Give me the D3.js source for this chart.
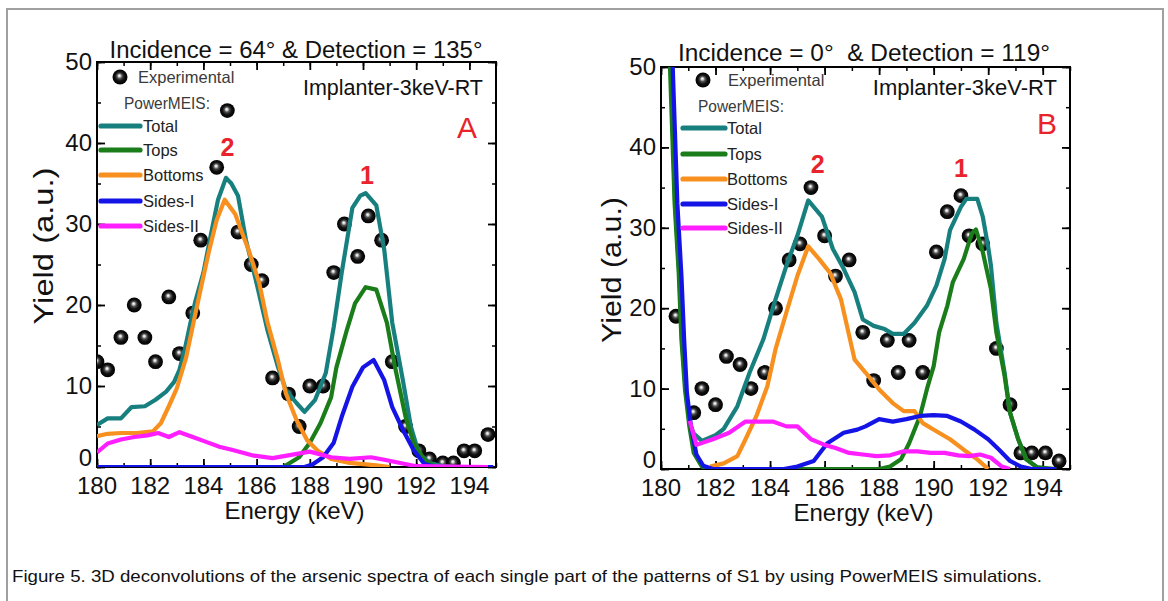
<!DOCTYPE html>
<html>
<head>
<meta charset="utf-8">
<script src="https://cdn.jsdelivr.net/npm/d3@7"></script>
<style>
  html, body { margin: 0; padding: 0; background: #fff; }
  svg { display: block; }
  text { font-family: "Liberation Sans", Arial, sans-serif; }
</style>
</head>
<body>
<svg id="chart" width="1168" height="601"></svg>
<script>
// ---------------- DATA ----------------
const xTickLabels = [180, 182, 184, 186, 188, 190, 192, 194];
const yTickLabels = [0, 10, 20, 30, 40, 50];
const seriesNames = ["Total", "Tops", "Bottoms", "Sides-I", "Sides-II"];

// Panel A : Incidence = 64° & Detection = 135°
const expA_E = [180.0,180.4,180.9,181.4,181.8,182.2,182.7,183.1,183.6,183.9,184.5,184.9,185.3,185.8,186.2,186.6,187.2,187.6,188.0,188.5,188.9,189.3,189.8,190.2,190.7,191.1,191.6,192.1,192.5,193.0,193.4,193.8,194.2,194.7];
const expA_Y = [13,12,16,20,16,13,21,14,19,28,37,44,29,25,23,11,9,5,10,10,24,30,26,31,28,13,5,2,1,0.5,0.5,2,2,4];

const totalA_E = [180,180.4,180.9,181.3,181.8,182.2,182.6,182.9,183.1,183.3,183.5,183.7,184.0,184.3,184.55,184.85,185.05,185.3,185.6,186.0,186.4,186.8,187.1,187.5,187.8,188.2,188.6,188.9,189.2,189.6,189.9,190.1,190.5,190.8,191.1,191.5,191.8,192.1,192.5,193.0,193.5];
const totalA_Y = [5.2,6.0,6.0,7.4,7.5,8.3,9.3,10.5,12,14.5,17.6,20.5,24,29,33,35.7,35,33.5,28,22.7,17,12.4,9.5,7.9,6.8,8.3,11.6,17.3,24,32,33.5,33.8,32.3,26.8,17.8,10.7,5,1.7,0.5,0.1,0];

const topsA_E = [180,187.0,187.6,188.0,188.4,188.8,189.0,189.4,189.7,190.1,190.5,190.9,191.2,191.6,191.9,192.3,192.7];
const topsA_Y = [0,0,1.2,3,5.4,8.6,12.3,17,20.2,22.2,21.9,17.8,12.4,6.2,3,0.9,0];

const bottomsA_E = [180,180.4,180.9,181.5,182.1,182.4,182.7,183.0,183.35,183.6,183.9,184.2,184.5,184.8,185.2,185.5,185.7,186.1,186.4,186.8,187.1,187.5,187.9,188.3,188.8,189.5,190.5,191.0];
const bottomsA_Y = [3.8,4.1,4.2,4.2,4.4,5.4,7.5,9.7,13.5,17.4,22,26.5,30.5,33,31.2,28.5,26.8,22.7,18,13.2,9.1,5.8,3.3,2,1,0.5,0.2,0];

const sides1A_E = [180,187.8,188.1,188.5,188.9,189.2,189.6,190.0,190.4,190.8,191.1,191.5,191.9,192.3,192.7,194.9];
const sides1A_Y = [0,0,0.3,1.2,3,6.2,9.9,12.3,13.2,10.7,7.4,4.6,2.1,0.4,0,0];

const sides2A_E = [180,180.4,180.9,181.4,181.9,182.3,182.7,183.1,183.6,184.1,184.6,185.1,185.9,186.6,187.3,188.0,188.8,189.5,190.3,190.8,191.4,192.0,194.7];
const sides2A_Y = [1.8,2.9,3.4,3.7,3.9,4.2,3.7,4.3,3.7,3.1,2.5,2.1,1.4,1.1,1.5,1.9,1.2,1.0,1.2,0.9,0.5,0.1,0];

// Panel B : Incidence = 0° & Detection = 119°
const expB_E = [180.55,181.2,181.5,182.0,182.4,182.9,183.3,183.8,184.2,184.7,185.1,185.5,186.0,186.4,186.9,187.4,187.8,188.3,188.7,189.1,189.6,190.1,190.5,191.0,191.3,191.8,192.3,192.8,193.2,193.6,194.1,194.6];
const expB_Y = [19,7,10,8,14,13,10,12,20,26,28,35,29,24,26,17,11,16,12,16,12,27,32,34,29,28,15,8,2,2,2,1];

const totalB_E = [180.36,180.52,180.67,180.77,180.9,181.05,181.2,181.5,182.0,182.3,182.8,183.25,183.75,184.2,184.6,185.0,185.4,185.9,186.3,186.7,187.1,187.4,187.8,188.2,188.5,188.9,189.3,189.75,190.1,190.4,190.6,191.0,191.2,191.6,191.8,192.0,192.1,192.3,192.6,192.8,193.1,193.4,193.8,194.2];
const totalB_Y = [50,33,24.4,16.1,9.9,5.8,4.4,3.5,4.2,5,7.8,12,16.1,21.1,25.3,29,33.4,31.4,27.4,24.9,22,18.6,17.8,17.4,16.8,16.8,18.2,20.3,22.8,26.1,29.7,32.6,33.6,33.6,31.4,27.6,25.3,18.2,12,7,3.7,1.2,0.2,0];

const topsB_E = [180.33,180.5,180.65,180.75,180.88,181.04,181.2,181.5,181.8,188.0,188.4,188.8,189.1,189.5,189.75,190.0,190.2,190.5,190.7,191.1,191.4,191.55,191.8,192.1,192.3,192.6,192.8,193.1,193.4,193.8,194.5];
const topsB_Y = [50,33,24.4,16.1,9.9,5.3,2.0,0.3,0,0,0.3,1.2,3.2,6.6,9.9,12.8,17,20.3,23.2,26.1,29.3,29.8,27,22.4,17,11.6,7.0,3.7,1.2,0.2,0];

const bottomsB_E = [181.8,182.3,182.8,183.1,183.5,183.9,184.2,184.6,185.0,185.4,185.8,186.2,186.6,187.1,187.5,188.0,188.5,188.9,189.3,189.6,190.1,190.6,191.1,191.6,192.0];
const bottomsB_Y = [0.3,0.7,1.6,3.7,6.6,10.3,14.9,19.5,24,27.7,26.1,24.4,21.1,13.6,12,9.9,8.2,7.2,7.2,5.7,4.7,3.7,2.4,1.2,0];

const sides1B_E = [180.43,180.6,180.75,180.85,180.95,181.1,181.3,181.55,181.9,184.5,185.0,185.6,186.1,186.7,187.2,187.5,188.0,188.5,189.0,189.5,190.0,190.5,191.0,191.5,192.0,192.4,192.8,193.2,193.6,194.5];
const sides1B_Y = [50,33,24,16,9.5,5.3,1.8,0.4,0,0,0.3,1.0,3.2,4.5,4.9,5.3,6.2,5.9,6.2,6.6,6.7,6.6,5.9,4.9,3.7,2.4,1.0,0.3,0,0];

const sides2B_E = [181.05,181.3,181.9,182.5,183.1,183.6,184.1,184.6,185.0,185.5,186.0,186.4,186.9,187.4,187.9,188.4,188.9,189.4,189.9,190.4,190.9,191.3,191.7,192.1,192.5,192.8];
const sides2B_Y = [6,3.0,3.7,4.5,5.9,5.9,5.9,5.3,5.3,3.7,3.0,2.6,2.0,1.8,1.6,1.7,2.2,2.2,2.0,2.0,1.7,1.6,1.8,1.4,0.3,0];

const seriesColors = ["#17807f", "#1a7d1a", "#f7901e", "#1414e6", "#ff1eff"];

// ---------------- DRAW ----------------
const svg = d3.select("#chart");
const defs = svg.append("defs");
const grad = defs.append("radialGradient").attr("id", "ball")
  .attr("cx", "50%").attr("cy", "50%").attr("r", "50%").attr("fx", "45%").attr("fy", "40%");
grad.append("stop").attr("offset", "0%").attr("stop-color", "#ffffff");
grad.append("stop").attr("offset", "14%").attr("stop-color", "#d8d8d8");
grad.append("stop").attr("offset", "35%").attr("stop-color", "#505050");
grad.append("stop").attr("offset", "62%").attr("stop-color", "#111");
grad.append("stop").attr("offset", "100%").attr("stop-color", "#000");

// outer frame
svg.append("rect").attr("x", 7).attr("y", 9).attr("width", 1156).attr("height", 620)
  .attr("fill", "none").attr("stroke", "#a0a0a0").attr("stroke-width", 2);

function zip(E, Y) { return E.map((e, i) => [e, Y[i]]); }

function panel(cfg) {
  const x = d3.scaleLinear().domain([180, 195]).range([cfg.left, cfg.right]);
  const y = d3.scaleLinear().domain([0, 50]).range([cfg.bottom, cfg.top]);
  const g = svg.append("g");

  const clipId = "clip" + cfg.id;
  defs.append("clipPath").attr("id", clipId).append("rect")
    .attr("x", cfg.left).attr("y", cfg.top)
    .attr("width", cfg.right - cfg.left).attr("height", cfg.bottom - cfg.top);

  // axes (ticks inward)
  const minorX = d3.range(180, 196, 1);
  const minorY = d3.range(0, 51, 5);
  const majorX = d3.range(180, 196, 2);
  const axes = [
    {ax: d3.axisBottom(x), tr: `translate(0,${cfg.bottom})`, vals: majorX, minors: minorX},
    {ax: d3.axisTop(x), tr: `translate(0,${cfg.top})`, vals: majorX, minors: minorX},
    {ax: d3.axisLeft(y), tr: `translate(${cfg.left},0)`, vals: yTickLabels, minors: minorY},
    {ax: d3.axisRight(y), tr: `translate(${cfg.right},0)`, vals: yTickLabels, minors: minorY}
  ];
  axes.forEach(a => {
    g.append("g").attr("transform", a.tr)
      .call(a.ax.tickValues(a.minors).tickSizeInner(-4).tickSizeOuter(0).tickFormat(""))
      .call(s => s.select(".domain").remove())
      .call(s => s.selectAll("line").attr("stroke", "#000").attr("stroke-width", 1.5));
    g.append("g").attr("transform", a.tr)
      .call(a.ax.tickValues(a.vals).tickSizeInner(-8).tickSizeOuter(0).tickFormat(""))
      .call(s => s.select(".domain").remove())
      .call(s => s.selectAll("line").attr("stroke", "#000").attr("stroke-width", 1.8));
  });
  g.append("rect").attr("x", cfg.left).attr("y", cfg.top)
    .attr("width", cfg.right - cfg.left).attr("height", cfg.bottom - cfg.top)
    .attr("fill", "none").attr("stroke", "#000").attr("stroke-width", 2);

  // tick labels
  g.selectAll(".xl").data(xTickLabels).enter().append("text")
    .attr("x", d => x(d)).attr("y", cfg.bottom + 27)
    .attr("text-anchor", "middle").attr("font-size", 24).attr("fill", "#111")
    .text(d => d);
  g.selectAll(".yl").data(yTickLabels).enter().append("text")
    .attr("x", cfg.left - 5).attr("y", d => (d === 0 ? y(d) - 1 : y(d) + 8))
    .attr("text-anchor", "end").attr("font-size", 24).attr("fill", "#111")
    .text(d => d);

  // axis titles
  g.append("text").attr("x", (cfg.left + cfg.right) / 2 - 2).attr("y", cfg.bottom + 52)
    .attr("text-anchor", "middle").attr("font-size", 24).attr("fill", "#111")
    .text("Energy (keV)");
  g.append("text").attr("transform", `translate(${cfg.yTitleX},${cfg.yTitleY}) rotate(-90)`)
    .attr("text-anchor", "middle").attr("font-size", 28).attr("fill", "#111")
    .attr("textLength", cfg.yTitleLen).attr("lengthAdjust", "spacingAndGlyphs")
    .text("Yield (a.u.)");

  // title
  g.append("text").attr("x", cfg.titleX).attr("y", cfg.titleY)
    .attr("text-anchor", "middle").attr("font-size", 23.5).attr("fill", "#111")
    .attr("textLength", cfg.titleLen).attr("lengthAdjust", "spacingAndGlyphs")
    .text(cfg.title);

  const plot = g.append("g").attr("clip-path", `url(#${clipId})`);

  // experimental points
  plot.selectAll("circle.exp").data(zip(cfg.expE, cfg.expY)).enter().append("circle")
    .attr("cx", d => x(d[0])).attr("cy", d => y(d[1])).attr("r", 7.4)
    .attr("fill", "url(#ball)");

  // simulated curves
  const line = d3.line().x(d => x(d[0])).y(d => y(d[1]));
  cfg.curves.forEach((c, i) => {
    plot.append("path").datum(zip(c[0], c[1]))
      .attr("d", line).attr("fill", "none")
      .attr("stroke", seriesColors[i]).attr("stroke-width", 4.2)
      .attr("stroke-linejoin", "round");
  });

  // legend
  const L = cfg.legend;
  g.append("circle").attr("cx", L.ballX).attr("cy", L.ballY).attr("r", 7.5).attr("fill", "url(#ball)");
  g.append("text").attr("x", L.expX).attr("y", L.ballY + 6).attr("font-size", 16.5).attr("fill", "#3a3a3a")
    .text("Experimental");
  g.append("text").attr("x", L.pmX).attr("y", L.pmY + 6).attr("font-size", 16.5).attr("fill", "#3a3a3a")
    .attr("textLength", 86).attr("lengthAdjust", "spacingAndGlyphs")
    .text("PowerMEIS:");
  seriesNames.forEach((n, i) => {
    const yy = L.rows[i];
    g.append("line").attr("x1", L.lx1).attr("x2", L.lx2).attr("y1", yy).attr("y2", yy)
      .attr("stroke", seriesColors[i]).attr("stroke-width", 5.2).attr("stroke-linecap", "round");
    g.append("text").attr("x", L.tx).attr("y", yy + 6).attr("font-size", 16.5).attr("fill", "#222")
      .text(n);
  });

  // annotations
  g.append("text").attr("x", cfg.right - 13).attr("y", cfg.implY)
    .attr("text-anchor", "end").attr("font-size", cfg.implSize).attr("fill", "#111")
    .text("Implanter-3keV-RT");
  g.append("text").attr("x", cfg.letterX).attr("y", cfg.letterY)
    .attr("text-anchor", "middle").attr("font-size", 30).attr("fill", "#e8232b")
    .text(cfg.letter);
  cfg.peaks.forEach(p => {
    g.append("text").attr("x", x(p.e)).attr("y", y(p.v) + 9)
      .attr("text-anchor", "middle").attr("font-size", 25).attr("font-weight", "bold")
      .attr("fill", "#e8232b").text(p.label);
  });
}

panel({
  id: "A", left: 97, right: 496, top: 62, bottom: 467,
  title: "Incidence = 64° & Detection = 135°", titleX: 296, titleY: 58, titleLen: 373,
  yTitleX: 53, yTitleY: 246, yTitleLen: 157,
  expE: expA_E, expY: expA_Y,
  curves: [[totalA_E, totalA_Y], [topsA_E, topsA_Y], [bottomsA_E, bottomsA_Y], [sides1A_E, sides1A_Y], [sides2A_E, sides2A_Y]],
  legend: {ballX: 120, ballY: 77, expX: 138, pmX: 124, pmY: 103, lx1: 101, lx2: 140, tx: 143, rows: [126, 150, 175, 201, 226]},
  implY: 95, implSize: 21.5, letter: "A", letterX: 467, letterY: 138,
  peaks: [{e: 184.9, v: 39.5, label: "2"}, {e: 190.15, v: 36.0, label: "1"}]
});

panel({
  id: "B", left: 661, right: 1070, top: 67, bottom: 469,
  title: "Incidence = 0°\u00a0 & Detection = 119°", titleX: 864, titleY: 61, titleLen: 372,
  yTitleX: 621, yTitleY: 270, yTitleLen: 146,
  expE: expB_E, expY: expB_Y,
  curves: [[totalB_E, totalB_Y], [topsB_E, topsB_Y], [bottomsB_E, bottomsB_Y], [sides1B_E, sides1B_Y], [sides2B_E, sides2B_Y]],
  legend: {ballX: 703, ballY: 80, expX: 728, pmX: 698, pmY: 106, lx1: 683, lx2: 725, tx: 727, rows: [128, 154, 179, 204, 228]},
  implY: 95, implSize: 22, letter: "B", letterX: 1047, letterY: 134,
  peaks: [{e: 185.75, v: 37.9, label: "2"}, {e: 191.0, v: 37.5, label: "1"}]
});

// caption
svg.append("text").attr("x", 12).attr("y", 582)
  .attr("font-family", "'Liberation Sans Narrow', 'Liberation Sans', Arial, sans-serif")
  .attr("font-size", 16.5).attr("fill", "#111")
  .attr("textLength", 1030).attr("lengthAdjust", "spacingAndGlyphs")
  .text("Figure 5. 3D deconvolutions of the arsenic spectra of each single part of the patterns of S1 by using PowerMEIS simulations.");
</script>
</body>
</html>
